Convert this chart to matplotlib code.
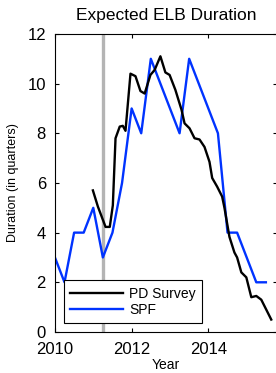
import numpy as np
import matplotlib
matplotlib.use('Agg')
import matplotlib.pyplot as plt

plt.rcParams['font.family'] = ['Liberation Sans', 'DejaVu Sans']

# SPF, quarterly
spf_dates = [2010.00, 2010.25, 2010.50, 2010.75, 2011.00, 2011.25, 2011.50, 2011.75,
             2012.00, 2012.25, 2012.50, 2012.75, 2013.00, 2013.25, 2013.50, 2013.75,
             2014.00, 2014.25, 2014.50, 2014.75, 2015.00, 2015.25, 2015.50]
spf_values = [3, 2, 4, 4, 5, 3, 4, 6,
              9, 8, 11, 10, 9, 8, 11, 10,
              9, 8, 4, 4, 3, 2, 2]

# Primary Dealer survey, per FOMC meeting
pd_dates = [2010.99, 2011.12, 2011.32, 2011.43, 2011.51, 2011.58, 2011.69, 2011.77,
            2011.84, 2011.97, 2012.10, 2012.23, 2012.34, 2012.49, 2012.60, 2012.75,
            2012.88, 2012.99, 2013.14, 2013.30, 2013.38, 2013.51, 2013.64, 2013.77,
            2013.90, 2014.03, 2014.10, 2014.23, 2014.36, 2014.42, 2014.55, 2014.68,
            2014.75, 2014.86, 2014.99, 2015.12, 2015.25, 2015.38, 2015.51, 2015.64]
pd_values = [5.7, 5.05, 4.23, 4.23, 5.1, 7.8, 8.27, 8.3,
             8.1, 10.4, 10.3, 9.7, 9.6, 10.35, 10.55, 11.1,
             10.45, 10.35, 9.75, 8.95, 8.4, 8.2, 7.8, 7.75,
             7.45, 6.85, 6.2, 5.85, 5.45, 5.0, 3.83, 3.2,
             3.0, 2.4, 2.2, 1.4, 1.45, 1.3, 0.9, 0.5]

event_date = 2011.25

fig = plt.figure(figsize=(2.76, 3.73), dpi=100)
ax = fig.add_axes([0.199, 0.110, 0.806, 0.799])

ax.axvline(event_date, color='#b4b4b4', lw=2.4, zorder=1)
ax.plot(pd_dates, pd_values, color='black', lw=1.7, label='PD Survey', zorder=3)
ax.plot(spf_dates, spf_values, color='#0033ff', lw=1.7, label='SPF', zorder=2)

ax.set_xlim(2010, 2015.8)
ax.set_ylim(0, 12)
ax.set_xticks([2010, 2012, 2014])
ax.set_yticks(np.arange(0, 13, 2))
ax.tick_params(direction='in', top=True, right=True, length=3, labelsize=12)
ax.tick_params(axis='x', pad=7)
ax.tick_params(axis='y', pad=6.5)

ax.set_title('Expected ELB Duration', fontsize=12.5, pad=10)
ax.set_xlabel('Year', fontsize=10, labelpad=1)
ax.set_ylabel('Duration (in quarters)', fontsize=9, labelpad=6)

leg = ax.legend(loc='lower left', bbox_to_anchor=(0.04, 0.03), fontsize=10,
                fancybox=False, edgecolor='black', framealpha=1,
                handlelength=3.8, handletextpad=0.45, borderpad=0.45,
                labelspacing=0.15, borderaxespad=0)
leg.get_frame().set_linewidth(0.8)

fig.savefig('out.png', dpi=100)
